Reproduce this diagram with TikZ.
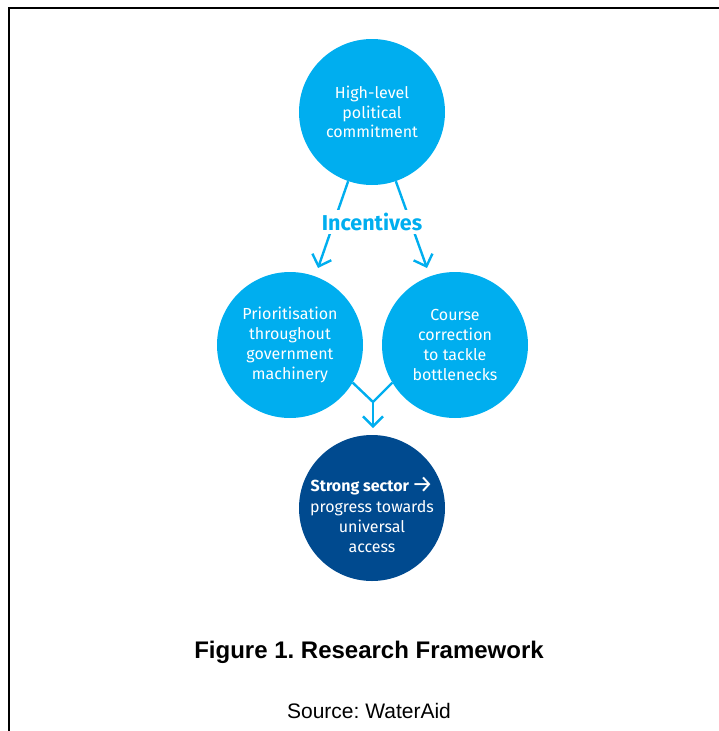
\documentclass[tikz,border=0pt]{standalone}
\usepackage{fontspec}
\setmainfont{Fira Sans}
\newfontfamily\arial{Liberation Sans}
\usetikzlibrary{arrows.meta}
\definecolor{lightblue}{HTML}{00AEEF}
\definecolor{darkblue}{HTML}{004A8F}
\frenchspacing
\tikzset{
  circ/.style={circle, fill=lightblue, minimum size=146pt, inner sep=0pt, text=white, align=center,
    font=\fontsize{16}{19.8}\selectfont},
  conn/.style={draw=lightblue, line width=2.4pt},
  arr/.style={conn, -{Straight Barb[length=10pt,width=20pt,line width=2.4pt]}},
}
\begin{document}
\begin{tikzpicture}[x=1pt,y=-1pt]
\useasboundingbox (0,0) rectangle (719,731);
\draw[line width=2pt] (9,731) -- (9,8) -- (719,8);

\node[circ] (T) at (372,112) {High-level\\political\\commitment};
\node[circ] (L) at (290,345) {Prioritisation\\throughout\\government\\machinery};
\node[circ] (R) at (455,345) {Course\\correction\\to tackle\\bottlenecks};
\node[circ, fill=darkblue] (B) at (372,508) {};
\node[text=white, align=center, font=\fontsize{16}{20}\selectfont] (Bt) at (372,515)
  {\textbf{Strong sector}\,{\fontsize{24}{20}\selectfont\raisebox{-1pt}{→}}\\[1pt]progress towards\\universal\\access};

\coordinate (tl) at (318,268);
\coordinate (tr) at (427,268);
\draw[arr] (T.-109) -- (tl);
\draw[arr] (T.-71) -- (tr);
\node[font=\bfseries\fontsize{21.5}{21.5}\selectfont, text=lightblue, fill=white, inner sep=3pt] (I) at (372,222) {Incentives};

\coordinate (m) at (373,402);
\coordinate (mt) at (373,428);
\draw[conn] (L.-31) -- (m) -- (R.-149);
\draw[arr] (m) -- (mt);

\node[font=\arial\bfseries\fontsize{24}{24}\selectfont] (cap) at (369,652) {Figure 1. Research Framework};
\node[font=\arial\fontsize{21}{21}\selectfont] (src) at (369,711) {Source: WaterAid};
\end{tikzpicture}
\end{document}
